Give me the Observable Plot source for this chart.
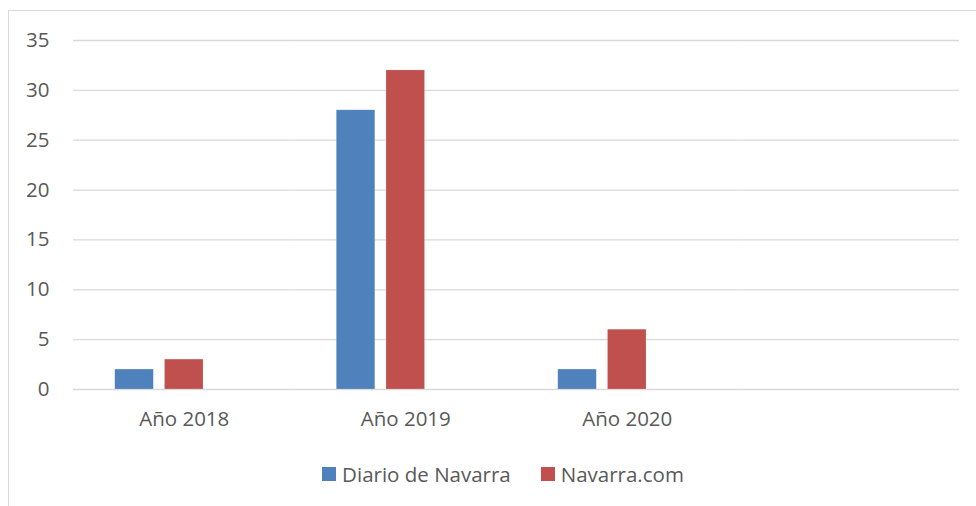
<!DOCTYPE html>
<html>
<head>
<meta charset="utf-8">
<script src="https://cdn.jsdelivr.net/npm/d3@7"></script>
<script src="https://cdn.jsdelivr.net/npm/@observablehq/plot@0.6"></script>
<style>
  html, body { margin: 0; padding: 0; background: #fff; overflow: hidden; }
  #frame { position: absolute; left: 8px; top: 10px; width: 1000px; height: 600px; border: 1px solid #d9d9d9; box-sizing: border-box; }
  #chart { position: absolute; left: 0; top: 0; }
  #legend { position: absolute; left: 0; width: 1006px; top: 460px; display: flex; justify-content: center; font-family: "Open Sans", sans-serif; font-size: 20.5px; color: #595959; }
  .item { display: flex; align-items: center; margin: 0 15px; }
  .sw { width: 14px; height: 14px; margin-right: 6px; }
</style>
</head>
<body>
<div id="frame"></div>
<div id="chart"></div>
<div id="legend"></div>
<script>
const categories = ["Año 2018", "Año 2019", "Año 2020", ""];
const seriesNames = ["Diario de Navarra", "Navarra.com"];
const seriesColors = ["#4f81bd", "#c0504d"];
const diarioDeNavarra = [2, 28, 2];
const navarraCom = [3, 32, 6];
const yTicks = [0, 5, 10, 15, 20, 25, 30, 35];

const seriesValues = [diarioDeNavarra, navarraCom];
const data = [];
seriesNames.forEach((s, si) => {
  seriesValues[si].forEach((v, ci) => data.push({cat: categories[ci], series: s, value: v}));
});
const grid = [];
categories.forEach(c => yTicks.forEach(t => grid.push({cat: c, v: t})));

const chart = Plot.plot({
  width: 976,
  height: 506,
  marginLeft: 73,
  marginRight: 17,
  marginTop: 40,
  marginBottom: 117,
  style: {fontFamily: "Open Sans, sans-serif", fontSize: "20.5px", color: "#595959", background: "transparent"},
  fx: {domain: categories, padding: 0, round: false, axis: "bottom", tickSize: 0, tickPadding: 22, label: null},
  x: {domain: [...seriesNames, "_"], paddingInner: 11 / 49, paddingOuter: 0.84, round: false, axis: null},
  y: {domain: [0, 35], ticks: yTicks, tickSize: 0, tickPadding: 24, label: null, axis: "left"},
  color: {domain: seriesNames, range: seriesColors},
  marks: [
    Plot.ruleY(grid, {fx: "cat", y: "v", stroke: "#d9d9d9", strokeWidth: 1.3}),
    Plot.barY(data, {fx: "cat", x: "series", y: "value", fill: "series", inset: 0, stroke: "#ffffff", strokeOpacity: 0.3, strokeWidth: 0.6})
  ]
});
document.getElementById("chart").appendChild(chart);

const legend = document.getElementById("legend");
seriesNames.forEach((s, i) => {
  const item = document.createElement("div");
  item.className = "item";
  const sw = document.createElement("div");
  sw.className = "sw";
  sw.style.background = seriesColors[i];
  const t = document.createElement("span");
  t.textContent = s;
  item.appendChild(sw);
  item.appendChild(t);
  legend.appendChild(item);
});
</script>
</body>
</html>
